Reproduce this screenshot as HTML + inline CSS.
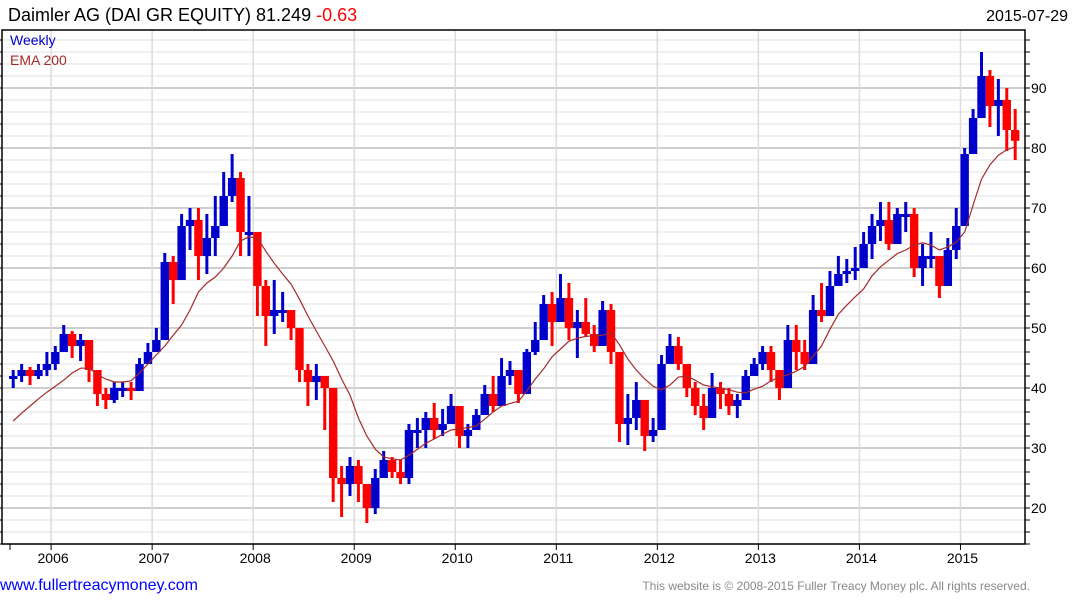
<!DOCTYPE html>
<html><head><meta charset="utf-8">
<style>
body{margin:0;background:#fff;width:1075px;height:600px;overflow:hidden;font-family:"Liberation Sans",sans-serif;}
svg{display:block}
</style></head>
<body>
<svg id="chart" width="1075" height="600" xmlns="http://www.w3.org/2000/svg">
<text x="8" y="21" font-size="18" fill="#000" font-family="Liberation Sans, sans-serif">Daimler AG (DAI GR EQUITY) 81.249 <tspan fill="#f00">-0.63</tspan></text>
<text x="1068" y="21" font-size="16" text-anchor="end" fill="#000" font-family="Liberation Sans, sans-serif">2015-07-29</text>
<g id="grid"></g>
<g id="bars"></g>
<g id="ema"></g>
<g id="axes"></g>
<text x="10" y="45" font-size="14" fill="#00c" font-family="Liberation Sans, sans-serif">Weekly</text>
<text x="10" y="65" font-size="14" fill="#a52a2a" font-family="Liberation Sans, sans-serif">EMA 200</text>
<text x="0" y="590" font-size="16" fill="#00f" font-family="Liberation Sans, sans-serif">www.fullertreacymoney.com</text>
<text x="1030" y="590" font-size="12" text-anchor="end" fill="#888" font-family="Liberation Sans, sans-serif">This website is © 2008-2015 Fuller Treacy Money plc. All rights reserved.</text>
</svg>
<script>
// monthly data from Aug 2005 to Jul 2015
const closes=[42,43,42,43,44, 46,49,47,48,43,39,38,40,40,39.5,44,46, 48,61,58,67,68,62,65,67,72,75,66,66, 57,52,53,53,50,43,41,42,40,25,24,27, 24,20,25,28,26,25,33,33,35,33,34,37, 32,33,35.5,39,37,42,43,39,46,48,54,51, 55,50,51,49,47,53,46,34,35,38,32,33, 44,47,44,40,37,35,40,39,37,38,42,44, 46,43,40,48,46,44,53,52,57,59,59.5,60, 64,67,68,64,69,69,60,62,62,57,63,67, 79,85,92,87,88,83,81.2];
const highs=[43,44,43.5,44,46, 47,50.5,49.5,49,47,42,40,41,41,41,45,47.5, 50,62.5,62,69,70,70,69,72,76,79,76,72, 65,58,58,56,53,50,44,44,42,36,27,28.5, 28,24,26.5,29.5,28.5,28,34,35,36,37.5,36.5,39, 37,34,36.5,40.5,42,45,44.5,43,46.5,51,55.5,56, 59,57.5,53,55,50.5,54.5,54,43,39,41,36.5,35, 45.5,49,48.5,44,41,39,42.5,41,40,39,43,45, 47,47,43,50.5,50.5,48,55.5,57.5,59.5,62,61.5,63.5, 66,69,71,71,70,71,70,64,66,62,65,70, 80,86.5,96,93,91.5,90,86.5];
const lows=[40,41,40.5,41.5,42, 43,46,45,44.5,41,37,36.5,37.5,38.5,38,39.5,44, 46,48,54,59,63,58,59,62,68,71,62,62, 52,47,49,51,48,41,37,38,33,21,18.5,22, 21,17.5,19,25,25,24,24,30,30,31.5,32,34, 30,30,33,35.5,36,39.5,40.5,37.5,40,45.5,49,47, 51,48,45,48.5,46,49,44,31,30.5,33,29.5,31, 36,44,43,38.5,35.5,33,37.5,36.5,35.5,35,38.5,42.5, 43,41,38,40,43,43,48,51,54.5,57.5,57.5,58, 60,61.5,64.5,63,64,66,58.5,57,60,55,60,61.5, 68.5,79,85,83.5,82,79.5,78];
const ema=[34.5,35.8,37,38.2,39.3, 40.3,41.3,42.5,43.3,43.3,42.2,41.5,41,41,41.2,42.5,44, 45.5,47,48.8,50.5,53,56,57.5,58.5,60,62,64.5,65.2, 65,62.8,60.8,59,57.3,54.8,52,49.5,47,44.5,41.5,38.8, 35,32,29.8,28.5,28.2,28,28.8,29.8,30.8,31.5,32.3,33, 33.2,33.4,33.7,34.8,36,37,37.4,37.8,39.5,41.5,43.2,45.2, 46.5,47.8,48.3,48.6,48.7,48.8,49.2,47.2,44.8,43,41.5,40.3, 39.7,40.5,41.8,42,41.3,40.5,40.2,40,39.7,39.3,39.2,39.8, 40.3,41.2,41.8,42.2,42.8,43.6,45.3,47,49.8,52.3,53.8,55.2, 56.5,58.7,60.2,61.3,62.4,63,63.8,64.2,63.8,63,63.5,64.3, 66,70.5,74.8,77.2,78.8,79.7,80.2];
const yTicks=[20,30,40,50,60,70,80,90];
const yearLabels=["2006","2007","2008","2009","2010","2011","2012","2013","2014","2015"];

const NS="http://www.w3.org/2000/svg";
const L=2,R=1025,T=30,B=544;
const yScale=v=>88+(90-v)*6;
const monthW=8.42;
const xMonth=i=>9+i*monthW; // month start; Aug 2005 = index 0
const xYear=k=>xMonth(5+12*k);
function mk(tag,attrs,parent){const e=document.createElementNS(NS,tag);for(const k in attrs)e.setAttribute(k,attrs[k]);parent.appendChild(e);return e;}
const grid=document.getElementById('grid'),bars=document.getElementById('bars'),emaG=document.getElementById('ema'),axes=document.getElementById('axes');
for(let v=14;v<=100;v+=2){const y=yScale(v);if(y<T||y>B)continue;
 const major=v%10===0;
 const ln=mk('line',{x1:L,x2:R,y1:y,y2:y,stroke:major?'#bdbdbd':'#e6e6e6','stroke-width':major?1.5:1.2},grid);
 
 
 const tk=mk('line',{x1:R,x2:R+5,y1:y,y2:y,stroke:'#000'},axes);
 
 
 const tl=mk('line',{x1:L-3,x2:L,y1:y,y2:y,stroke:'#000'},axes);
 
 
}
yTicks.forEach(v=>{const t=mk('text',{x:1031,y:yScale(v)+5,'font-size':14,fill:'#000','font-family':'Liberation Sans, sans-serif'},axes);t.textContent=v;
 
 });
yearLabels.forEach((lab,k)=>{const x=xYear(k);
 const g=mk('line',{x1:x,x2:x,y1:T,y2:B,stroke:'#dcdcdc','stroke-width':1.5},grid);
 
 
 const tk=mk('line',{x1:x,x2:x,y1:B,y2:B+6,stroke:'#000'},axes);
 
 
 const t=mk('text',{x:x+2,y:563,'font-size':14,'text-anchor':'middle',fill:'#000','font-family':'Liberation Sans, sans-serif'},axes);t.textContent=lab;
 
 });
const t0=mk('line',{x1:10,x2:10,y1:B,y2:B+6,stroke:'#000'},axes);


const frame=mk('path',{d:`M${L},${T} H${R} V${B} H${L} Z`,fill:'none',stroke:'#000','stroke-width':1.5},axes);


closes.forEach((c,i)=>{const o=i===0?c-0.5:closes[i-1];const up=c>=o;const col=up?'#0000cc':'#ff0000';
 const x=xMonth(i)+monthW/2;
 const w=mk('line',{x1:x,x2:x,y1:yScale(highs[i]),y2:yScale(lows[i]),stroke:col,'stroke-width':3},bars);
 
 
 const top=yScale(Math.max(o,c)),bot=yScale(Math.min(o,c));
 const r=mk('rect',{x:x-4.2,y:top,width:8.4,height:Math.max(3,bot-top),fill:col},bars);
 
 });
const pts=ema.map((v,i)=>`${(xMonth(i)+monthW/2).toFixed(1)},${yScale(v).toFixed(1)}`).join(' ');
const pl=mk('polyline',{points:pts,fill:'none',stroke:'#a52a2a','stroke-width':1.2},emaG);


</script>
</body></html>
